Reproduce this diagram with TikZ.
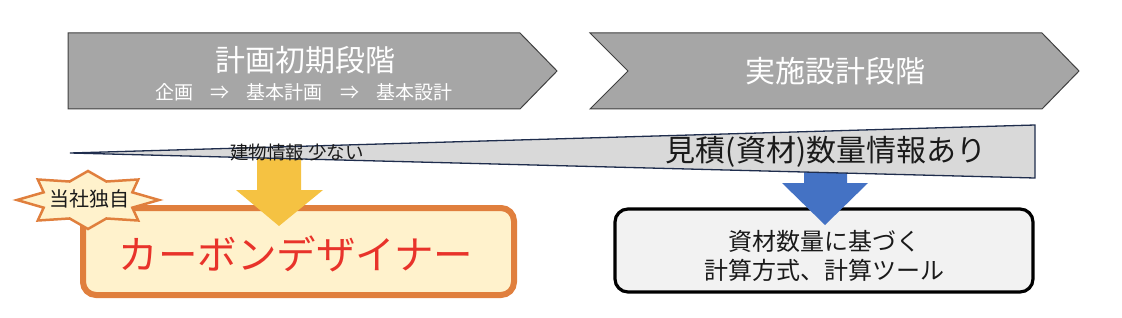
\documentclass[tikz,border=0pt]{standalone}
\usepackage{fontspec}
\setmainfont{Noto Sans CJK JP}
\newfontfamily\jpfont{Noto Sans CJK JP}
\definecolor{chevgray}{HTML}{A6A6A6}
\definecolor{chevline}{HTML}{404040}
\definecolor{wedgefill}{HTML}{D9D9D9}
\definecolor{wedgeline}{HTML}{1F2D4D}
\definecolor{orangeline}{HTML}{E07F3D}
\definecolor{creamfill}{HTML}{FFF2CC}
\definecolor{cdred}{HTML}{E8332A}
\definecolor{boxfill}{HTML}{F2F2F2}
\definecolor{yellowarrow}{HTML}{F5C242}
\definecolor{bluearrow}{HTML}{4472C4}
\definecolor{textdark}{HTML}{1A1A1A}
\begin{document}
\begin{tikzpicture}[x=1pt,y=-1pt,
  chev/.style={fill=chevgray,draw=chevline,line width=1pt},
  whitetext/.style={text=white,inner sep=0pt,font=\jpfont},
  darktext/.style={text=textdark,inner sep=0pt,font=\jpfont}]
\useasboundingbox (0,0) rectangle (1122,318);
% chevrons
\draw[chev] (68,33) -- (520,33) -- (557,71) -- (520,109) -- (68,109) -- cycle;
\draw[chev] (590,33) -- (1042,33) -- (1079,71) -- (1042,109) -- (590,109) -- (628,71) -- cycle;
\node[whitetext,font=\jpfont\fontsize{30}{32}\selectfont] (p1) at (305,60) {計画初期段階};
\node[whitetext,font=\jpfont\fontsize{19}{21}\selectfont] (p1sub) at (304,92) {企画\hspace{0.9em}⇒\hspace{0.9em}基本計画\hspace{0.9em}⇒\hspace{0.9em}基本設計};
\node[whitetext,font=\jpfont\fontsize{30}{32}\selectfont] (p2) at (835,71) {実施設計段階};
% boxes
\node[draw=orangeline,fill=creamfill,line width=6pt,rounded corners=13pt,
  minimum width=431pt,minimum height=87pt] (cd) at (298.5,251.5) {};
\node[text=cdred,inner sep=0pt,font=\jpfont\fontsize{39.5}{41}\selectfont] (cdtext) at (296,254) {カーボンデザイナー};
\node[draw=black,fill=boxfill,line width=3.2pt,rounded corners=13pt,
  minimum width=418pt,minimum height=83pt] (calc) at (824,250.5) {};
\node[darktext,align=center,font=\jpfont\fontsize{24}{29}\selectfont] (calctext) at (824,256) {資材数量に基づく\\計算方式、計算ツール};
% block arrows
\fill[yellowarrow] (257,158) -- (301,158) -- (301,190) -- (323,190) -- (279,226) -- (236,190) -- (257,190) -- cycle;
\fill[bluearrow] (804,165) -- (847,165) -- (847,183) -- (868,183) -- (825,225) -- (782,183) -- (804,183) -- cycle;
% wedge
\draw[fill=wedgefill,draw=wedgeline,line width=1.3pt] (70,153) -- (1035,125) -- (1035,178) -- cycle;
\node[darktext,font=\jpfont\fontsize{18.5}{20}\selectfont] (few) at (297,152) {建物情報 少ない};
\node[darktext,font=\jpfont\fontsize{30}{32}\selectfont] (est) at (826,152) {見積(資材)数量情報あり};
% star
\draw[fill=creamfill,draw=orangeline,line width=2.5pt,line join=miter]
  plot[samples at={0,...,15}] ({88+(mod(\x,2)==0 ? 71 : 48)*cos(90+\x*22.5)},{200-(mod(\x,2)==0 ? 29 : 20)*sin(90+\x*22.5)}) -- cycle;
\node[darktext,font=\jpfont\fontsize{20}{22}\selectfont] (own) at (89,199) {当社独自};
\end{tikzpicture}
\end{document}
